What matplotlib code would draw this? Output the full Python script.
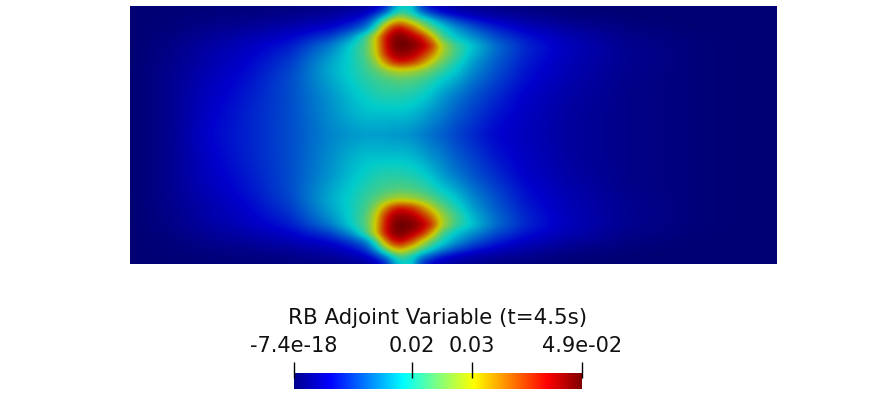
import numpy as np
import matplotlib
matplotlib.use('Agg')
import matplotlib.pyplot as plt
from matplotlib.colors import LinearSegmentedColormap

plt.rcParams['font.family'] = ['DejaVu Sans']

W, H = 874, 393

# mesh coords and field, field as percent of the max value
x_grid = [0, 40, 80, 120, 160, 200, 220, 235, 245, 255, 263, 271, 282, 292, 302, 312,
          325, 343, 365, 395, 440, 500, 570, 647]
y_half = [0, 6, 14, 22, 30, 39, 48, 56, 64, 74, 89, 109, 129]
field_half = [
    [0, 0, 1, 1, 1, 2, 3, 4, 6, 12, 30, 38, 38, 16, 9, 6, 4, 3, 2, 1, 0, 0, 0, 0],
    [0, 1, 1, 2, 3, 5, 7, 9, 14, 24, 36, 44, 38, 26, 18, 12, 8, 5, 4, 3, 1, 0, 0, 0],
    [0, 1, 2, 3, 5, 8, 12, 18, 30, 48, 62, 66, 56, 46, 38, 30, 23, 16, 11, 7, 3, 1, 0, 0],
    [0, 1, 4, 6, 9, 13, 19, 26, 42, 70, 85, 88, 78, 62, 48, 40, 32, 24, 17, 11, 6, 2, 0, 0],
    [0, 2, 5, 8, 12, 20, 30, 44, 62, 85, 95, 98, 92, 84, 66, 46, 37, 30, 22, 15, 9, 3, 1, 0],
    [0, 3, 7, 11, 16, 28, 38, 47, 62, 85, 96, 100, 98, 93, 82, 60, 46, 37, 27, 18, 10, 4, 1, 0],
    [0, 3, 8, 12, 18, 31, 39, 47, 60, 82, 92, 95, 92, 84, 72, 57, 46, 35, 26, 17, 10, 4, 1, 0],
    [0, 3, 8, 13, 20, 33, 39, 45, 54, 70, 82, 86, 82, 72, 60, 50, 42, 32, 24, 16, 9, 4, 1, 0],
    [0, 4, 9, 14, 21, 34, 39, 44, 48, 54, 58, 60, 58, 54, 49, 44, 38, 30, 23, 15, 9, 4, 1, 0],
    [0, 4, 10, 15, 22, 33, 38, 42, 44, 46, 47, 48, 47, 45, 42, 38, 34, 27, 21, 14, 8, 3, 1, 0],
    [0, 4, 11, 16, 22, 31, 36, 39, 41, 42, 42, 42, 41, 39, 36, 32, 28, 23, 18, 12, 7, 3, 1, 0],
    [0, 4, 12, 17, 22, 30, 34, 36, 36, 36, 36, 36, 35, 33, 30, 28, 24, 20, 15, 11, 6, 3, 1, 0],
    [0, 4, 13, 17, 22, 29, 31, 32, 32, 32, 31, 31, 30, 28, 26, 24, 21, 17, 13, 10, 6, 3, 1, 0],
]
v_max = 4.9e-2
tick_values = [0.0, 0.02, 0.0303, 4.9e-2]
tick_labels = ['-7.4e-18', '0.02', '0.03', '4.9e-02']
title = 'RB Adjoint Variable (t=4.5s)'

stops = [(0.0, (0, 0, 0.56)), (0.125, (0, 0, 1)), (0.38, (0, 1, 1)), (0.5, (0.5, 1, 0.5)),
         (0.625, (1, 1, 0)), (0.88, (1, 0, 0)), (1.0, (0.5, 0, 0))]
cmap = LinearSegmentedColormap.from_list('pv_jet', stops, N=512)
# the surface is lit so it comes out a bit darker than the bar
shade = 0.8
cmap_lit = LinearSegmentedColormap.from_list(
    'pv_jet_lit', [(p, tuple(shade * c for c in rgb)) for p, rgb in stops], N=512)


def px_axes(fig, left, top, right, bottom):
    return fig.add_axes([left / W, 1 - bottom / H, (right - left) / W, (bottom - top) / H])


def smooth(a, sigma):
    # only softens the coarse table for display
    r = int(3 * sigma)
    k = np.exp(-0.5 * (np.arange(-r, r + 1) / sigma) ** 2)
    k /= k.sum()
    for axis in (0, 1):
        pad = [(0, 0), (0, 0)]
        pad[axis] = (r, r)
        a = np.apply_along_axis(lambda m: np.convolve(m, k, mode='valid'), axis,
                                np.pad(a, pad, mode='edge'))
    return a


# top half is mirrored to get the bottom half
y_grid = np.array(y_half, dtype=float)
height = 2 * y_grid[-1]
y_all = np.concatenate([y_grid, height - y_grid[-2::-1]])
half = np.array(field_half, dtype=float)
field = np.vstack([half, half[-2::-1]]) / 100 * v_max

xf = np.linspace(0, x_grid[-1], 648)
yf = np.linspace(0, height, 259)
fine = np.array([np.interp(xf, x_grid, row) for row in field])
fine = np.array([np.interp(yf, y_all, col) for col in fine.T]).T
# soften more where the field is low, the hot spots stay sharp
w = np.clip(fine / (0.4 * v_max), 0, 1)
w = smooth(w, 4.0)
fine = w * smooth(fine, 2.5) + (1 - w) * smooth(fine, 7.0)

fig = plt.figure(figsize=(W / 100, H / 100), dpi=100)
ax = px_axes(fig, 130, 6, 777, 264)
ax.imshow(fine, cmap=cmap_lit, vmin=0, vmax=v_max, aspect='auto',
          extent=(0, x_grid[-1], height, 0), interpolation='bilinear')
ax.axis('off')

# colour bar
cax = px_axes(fig, 294, 373, 582, 389)
cax.imshow(np.linspace(0, 1, 512).reshape(1, -1), cmap=cmap, aspect='auto',
           extent=(0, v_max, 0, 1), vmin=0, vmax=1)
cax.set_xlim(0, v_max)
cax.set_ylim(0, 1)
cax.axis('off')
cax.vlines(tick_values, 0.69, 1.69, color='black', lw=1, clip_on=False)
for val, lab in zip(tick_values, tick_labels):
    cax.text(val, 2.05, lab, ha='center', va='bottom', fontsize=15, color='#111111')
cax.text(0.5, 3.8, title, transform=cax.transAxes, ha='center', va='bottom',
         fontsize=15.4, color='#111111')

plt.savefig('out.png', dpi=100)
